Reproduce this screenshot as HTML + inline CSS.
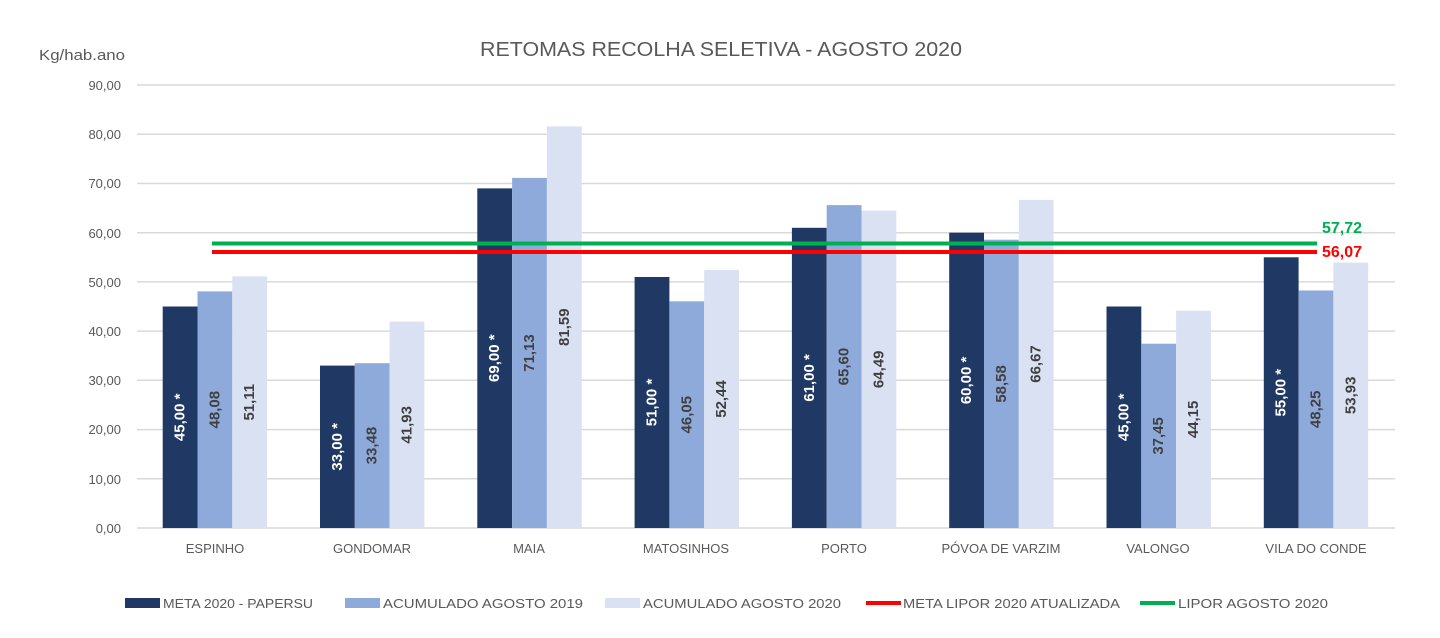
<!DOCTYPE html>
<html><head><meta charset="utf-8"><style>
html,body{margin:0;padding:0;background:#fff;}
svg{display:block;font-family:"Liberation Sans",sans-serif;}
</style></head><body>
<svg width="1440" height="638" viewBox="0 0 1440 638">
<rect width="1440" height="638" fill="#fff"/>
<text x="721" y="56" font-size="20" fill="#595959" text-anchor="middle" textLength="482" lengthAdjust="spacingAndGlyphs">RETOMAS RECOLHA SELETIVA - AGOSTO 2020</text>
<text x="39" y="60" font-size="15" fill="#595959" textLength="86" lengthAdjust="spacingAndGlyphs">Kg/hab.ano</text>
<g stroke="#d9d9d9" stroke-width="1.5">
<line x1="137" x2="1395" y1="528" y2="528"/><line x1="137" x2="1395" y1="478.8" y2="478.8"/>
<line x1="137" x2="1395" y1="429.6" y2="429.6"/><line x1="137" x2="1395" y1="380.3" y2="380.3"/>
<line x1="137" x2="1395" y1="331.1" y2="331.1"/><line x1="137" x2="1395" y1="281.9" y2="281.9"/>
<line x1="137" x2="1395" y1="232.7" y2="232.7"/><line x1="137" x2="1395" y1="183.5" y2="183.5"/>
<line x1="137" x2="1395" y1="134.2" y2="134.2"/><line x1="137" x2="1395" y1="85" y2="85"/>
</g>
<g font-size="13" fill="#595959" text-anchor="end">
<text x="121" y="533">0,00</text><text x="121" y="484">10,00</text><text x="121" y="434">20,00</text>
<text x="121" y="385">30,00</text><text x="121" y="336">40,00</text><text x="121" y="287">50,00</text>
<text x="121" y="238">60,00</text><text x="121" y="188">70,00</text><text x="121" y="139">80,00</text>
<text x="121" y="90">90,00</text>
</g>
<g id="bars">
<rect x="162.7" y="306.5" width="34.8" height="221.5" fill="#1f3864"/><rect x="197.5" y="291.4" width="34.8" height="236.6" fill="#8eaadb"/><rect x="232.3" y="276.4" width="34.8" height="251.6" fill="#d9e1f2"/>
<rect x="320" y="365.6" width="34.8" height="162.4" fill="#1f3864"/><rect x="354.8" y="363.2" width="34.8" height="164.8" fill="#8eaadb"/><rect x="389.6" y="321.6" width="34.8" height="206.4" fill="#d9e1f2"/>
<rect x="477.3" y="188.4" width="34.8" height="339.6" fill="#1f3864"/><rect x="512.1" y="177.9" width="34.8" height="350.1" fill="#8eaadb"/><rect x="546.9" y="126.4" width="34.8" height="401.6" fill="#d9e1f2"/>
<rect x="634.6" y="277" width="34.8" height="251" fill="#1f3864"/><rect x="669.4" y="301.3" width="34.8" height="226.7" fill="#8eaadb"/><rect x="704.2" y="269.9" width="34.8" height="258.1" fill="#d9e1f2"/>
<rect x="791.9" y="227.8" width="34.8" height="300.2" fill="#1f3864"/><rect x="826.7" y="205.1" width="34.8" height="322.9" fill="#8eaadb"/><rect x="861.5" y="210.6" width="34.8" height="317.4" fill="#d9e1f2"/>
<rect x="949.2" y="232.7" width="34.8" height="295.3" fill="#1f3864"/><rect x="984" y="239.7" width="34.8" height="288.3" fill="#8eaadb"/><rect x="1018.8" y="199.9" width="34.8" height="328.1" fill="#d9e1f2"/>
<rect x="1106.5" y="306.5" width="34.8" height="221.5" fill="#1f3864"/><rect x="1141.3" y="343.7" width="34.8" height="184.3" fill="#8eaadb"/><rect x="1176.1" y="310.7" width="34.8" height="217.3" fill="#d9e1f2"/>
<rect x="1263.8" y="257.3" width="34.8" height="270.7" fill="#1f3864"/><rect x="1298.6" y="290.5" width="34.8" height="237.5" fill="#8eaadb"/><rect x="1333.4" y="262.6" width="34.8" height="265.4" fill="#d9e1f2"/>
</g>
<line x1="212" x2="1317" y1="243.5" y2="243.5" stroke="#00b050" stroke-width="4"/>
<line x1="212" x2="1317" y1="252" y2="252" stroke="#ff0000" stroke-width="4"/>
<text x="1322" y="233" font-size="16" font-weight="bold" fill="#00b050">57,72</text>
<text x="1322" y="257" font-size="16" font-weight="bold" fill="#ff0000">56,07</text>
<g font-size="15" font-weight="bold" text-anchor="middle" dominant-baseline="central">
<text transform="translate(180.1,417.3) rotate(-90)" fill="#fff">45,00 *</text>
<text transform="translate(214.9,409.7) rotate(-90)" fill="#404040">48,08</text>
<text transform="translate(249.7,402.2) rotate(-90)" fill="#404040">51,11</text>
<text transform="translate(337.4,446.8) rotate(-90)" fill="#fff">33,00 *</text>
<text transform="translate(372.2,445.6) rotate(-90)" fill="#404040">33,48</text>
<text transform="translate(407,424.8) rotate(-90)" fill="#404040">41,93</text>
<text transform="translate(494.7,358.2) rotate(-90)" fill="#fff">69,00 *</text>
<text transform="translate(529.5,353) rotate(-90)" fill="#404040">71,13</text>
<text transform="translate(564.3,327.2) rotate(-90)" fill="#404040">81,59</text>
<text transform="translate(652,402.5) rotate(-90)" fill="#fff">51,00 *</text>
<text transform="translate(686.8,414.7) rotate(-90)" fill="#404040">46,05</text>
<text transform="translate(721.6,399) rotate(-90)" fill="#404040">52,44</text>
<text transform="translate(809.3,377.9) rotate(-90)" fill="#fff">61,00 *</text>
<text transform="translate(844.1,366.6) rotate(-90)" fill="#404040">65,60</text>
<text transform="translate(878.9,369.3) rotate(-90)" fill="#404040">64,49</text>
<text transform="translate(966.6,380.4) rotate(-90)" fill="#fff">60,00 *</text>
<text transform="translate(1001.4,383.9) rotate(-90)" fill="#404040">58,58</text>
<text transform="translate(1036.2,364) rotate(-90)" fill="#404040">66,67</text>
<text transform="translate(1123.9,417.3) rotate(-90)" fill="#fff">45,00 *</text>
<text transform="translate(1158.7,435.9) rotate(-90)" fill="#404040">37,45</text>
<text transform="translate(1193.5,419.4) rotate(-90)" fill="#404040">44,15</text>
<text transform="translate(1281.2,392.7) rotate(-90)" fill="#fff">55,00 *</text>
<text transform="translate(1316,409.3) rotate(-90)" fill="#404040">48,25</text>
<text transform="translate(1350.8,395.3) rotate(-90)" fill="#404040">53,93</text>
</g>
<g font-size="13" fill="#595959" text-anchor="middle">
<text x="215" y="553">ESPINHO</text><text x="372" y="553">GONDOMAR</text><text x="529" y="553">MAIA</text>
<text x="686" y="553">MATOSINHOS</text><text x="844" y="553">PORTO</text><text x="1001" y="553">PÓVOA DE VARZIM</text>
<text x="1158" y="553">VALONGO</text><text x="1316" y="553">VILA DO CONDE</text>
</g>
<g font-size="13" fill="#595959">
<rect x="125" y="598" width="35" height="10" fill="#1f3864"/><text x="163" y="608" textLength="150" lengthAdjust="spacingAndGlyphs">META 2020 - PAPERSU</text>
<rect x="345" y="598" width="35" height="10" fill="#8eaadb"/><text x="383" y="608" textLength="200" lengthAdjust="spacingAndGlyphs">ACUMULADO AGOSTO 2019</text>
<rect x="605" y="598" width="35" height="10" fill="#d9e1f2"/><text x="643" y="608" textLength="198" lengthAdjust="spacingAndGlyphs">ACUMULADO AGOSTO 2020</text>
<line x1="866" x2="901" y1="603" y2="603" stroke="#ff0000" stroke-width="4"/><text x="903" y="608" textLength="217" lengthAdjust="spacingAndGlyphs">META LIPOR 2020 ATUALIZADA</text>
<line x1="1140" x2="1175" y1="603" y2="603" stroke="#00b050" stroke-width="4"/><text x="1178" y="608" textLength="150" lengthAdjust="spacingAndGlyphs">LIPOR AGOSTO 2020</text>
</g>
</svg>
</body></html>
